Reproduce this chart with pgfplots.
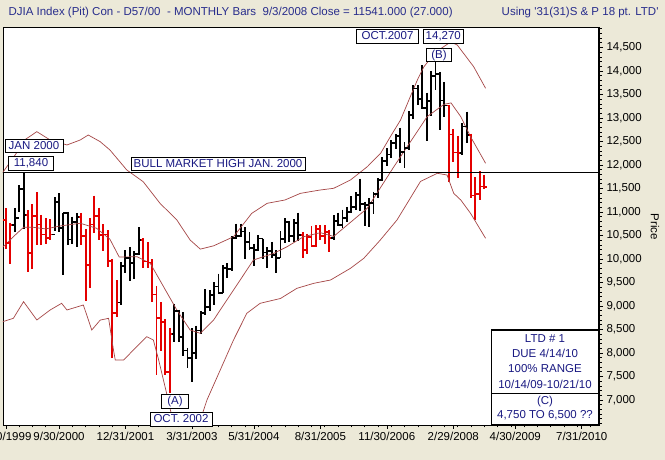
\documentclass[border=0pt]{standalone}
\usepackage{fontspec}
\setmainfont{Liberation Sans}
\usepackage{pgfplots}
\usepackage{pgfplotstable}
\pgfplotsset{compat=1.18}

\definecolor{bgbeige}{RGB}{236,233,216}
\definecolor{barred}{RGB}{228,0,0}
\definecolor{band}{RGB}{165,70,70}
\definecolor{navytxt}{RGB}{25,25,130}
\definecolor{titleblue}{RGB}{40,45,140}

\newcommand{\fs}{\fontsize{11.5bp}{13bp}\selectfont}

% open tick to the left, close tick to the right
\pgfdeclareplotmark{ohlcopen}{\pgfpathmoveto{\pgfpoint{-2.6bp}{0pt}}\pgfpathlineto{\pgfpoint{0pt}{0pt}}\pgfusepathqstroke}
\pgfdeclareplotmark{ohlcclose}{\pgfpathmoveto{\pgfpoint{0pt}{0pt}}\pgfpathlineto{\pgfpoint{2.6bp}{0pt}}\pgfusepathqstroke}

% month index m: Jan 2000 = 0
\pgfplotstableread{
m o h l c
-4 10829 11079 10213 10337
-3 10337 10772 9885 10729
1 10941 11041 9731 10128
2 10128 11164 9796 10922
3 10922 11425 10306 10734
4 10734 10937 10299 10522
5 10522 10863 10319 10448
6 10448 10843 10413 10522
13 10887 10983 10304 10495
14 10495 10642 9106 9879
15 9879 10863 9389 10735
16 10735 11350 10545 10912
17 10912 11095 10401 10502
18 10502 10735 10175 10523
19 10523 10610 9830 9950
20 9950 10000 7900 8848
21 8848 9545 8760 9075
27 10404 10440 9817 9946
28 9946 10353 9801 9925
29 9925 9995 9082 9243
30 9243 9430 7532 8737
31 8737 9077 8043 8664
32 8664 8722 7527 7592
33 7592 8539 7150 8397
63 10504 10570 10013 10193
64 10193 10542 10100 10467
65 10467 10706 10264 10275
66 10275 10720 10254 10641
67 10641 10719 10397 10482
68 10482 10720 10315 10569
69 10569 10627 10156 10440
96 13265 13279 11635 12650
97 12650 12767 12071 12266
98 12266 12622 11731 12263
101 12638 12668 11287 11350
102 11350 11735 10827 11378
103 11378 11866 11253 11544
104 11544 11790 11480 11532
}\redbars

\pgfplotstableread{
m o h l c
-2 10729 11090 10580 10878
-1 10878 11568 10998 11497
0 11497 11840 10638 10941
7 10522 11310 10589 11215
8 11215 11401 10580 10651
9 10651 10986 9654 10971
10 10971 11003 10289 10415
11 10415 10899 10318 10787
12 10787 10983 10252 10887
22 9075 9941 9022 9852
23 9852 10184 9700 10022
24 10022 10260 9529 9920
25 9920 10165 9584 10106
26 10106 10673 10078 10404
34 8397 9043 8236 8896
35 8896 8922 8232 8342
36 8342 8869 7945 8054
37 8054 8107 7673 7891
38 7891 8522 7390 7992
39 7992 8580 7866 8480
40 8480 8898 8394 8850
41 8850 9351 8812 8985
42 8985 9337 8888 9234
43 9234 9503 9021 9416
44 9416 9686 9275 9275
45 9275 9871 9275 9801
46 9801 9911 9591 9782
47 9782 10484 9748 10454
48 10454 10754 10418 10488
49 10488 10753 10466 10584
50 10584 10679 10007 10358
51 10358 10570 10200 10226
52 10226 10319 9853 10188
53 10188 10500 10165 10435
54 10435 10435 9999 10140
55 10140 10246 9808 10174
56 10174 10363 10013 10080
57 10080 10181 9708 10027
58 10027 10600 10027 10428
59 10428 10868 10331 10783
60 10783 10800 10368 10490
61 10490 10842 10362 10766
62 10766 10984 10392 10504
70 10440 10931 10400 10806
71 10806 10985 10700 10718
72 10718 11048 10667 10865
73 10865 11108 10785 10993
74 10993 11334 10970 11109
75 11109 11416 11033 11367
76 11367 11710 11022 11168
77 11168 11219 10699 11150
78 11150 11292 10683 11186
79 11186 11427 10961 11381
80 11381 11715 11295 11679
81 11679 12167 11655 12081
82 12081 12361 11986 12222
83 12222 12529 12149 12463
84 12463 12662 12333 12622
85 12622 12795 12050 12269
86 12269 12489 11939 12354
87 12354 13138 12319 13063
88 13063 13692 12988 13628
89 13628 13692 13267 13409
90 13409 14121 13195 13212
91 13212 13542 12518 13358
92 13358 14000 13032 13896
93 13896 14230 13603 13930
94 13930 13980 12743 13372
95 13372 13770 13016 13265
99 12263 12891 12215 12820
100 12820 13136 12477 12638
}\blackbars

\begin{document}
\begin{tikzpicture}
\fill[bgbeige] (0,0) rectangle (665bp,460bp);

\begin{axis}[
  at={(3bp,35bp)}, anchor=south west,
  scale only axis, width=596bp, height=398bp,
  xmin=-4.64, xmax=129.9, ymin=6468, ymax=14936,
  axis background/.style={fill=white},
  axis line style={black, line width=0.8bp},
  tick style={black, line width=0.6bp},
  tick align=outside,
  major tick length=4bp, minor tick length=2.5bp,
  xtick pos=left, ytick pos=right, yticklabel pos=right,
  xtick={-4,8,23,38,52,67,82,97,111,126},
  xticklabels={9/30/1999,9/30/2000,12/31/2001,3/31/2003,5/31/2004,8/31/2005,11/30/2006,2/29/2008,4/30/2009,7/31/2010},
  minor xtick={-1,2,...,128},
  ytick={7000,7500,...,14500},
  minor ytick={6500,6600,...,14900},
  scaled y ticks=false,
  /pgf/number format/.cd, fixed, 1000 sep={,}, assume math mode=true,
  /pgfplots/.cd,
  ticklabel style={font=\fs, text=black},
]

% OHLC bars: high-low stems
\addplot[draw=none, mark=none, forget plot, error bars/.cd, y dir=minus, y explicit, error mark=none,
  error bar style={draw=barred, line width=1.9bp}]
  table[x=m, y=h, y error expr=\thisrow{h}-\thisrow{l}] {\redbars};
\addplot[draw=none, mark=none, forget plot, error bars/.cd, y dir=minus, y explicit, error mark=none,
  error bar style={draw=black, line width=1.9bp}]
  table[x=m, y=h, y error expr=\thisrow{h}-\thisrow{l}] {\blackbars};

% open and close ticks
\addplot[barred, only marks, mark=ohlcopen, mark options={line width=1.8bp}] table[x=m, y=o] {\redbars};
\addplot[barred, only marks, mark=ohlcclose, mark options={line width=1.8bp}] table[x=m, y=c] {\redbars};
\addplot[black, only marks, mark=ohlcopen, mark options={line width=1.8bp}] table[x=m, y=o] {\blackbars};
\addplot[black, only marks, mark=ohlcclose, mark options={line width=1.8bp}] table[x=m, y=c] {\blackbars};

% upper band
\addplot[band, line width=0.7bp] coordinates {
(-4.7,11840) (-2,12200) (0.5,12550) (3,12709) (6,12532) (9.8,12426) (12.8,12532)
(14.6,12638) (17.3,12496) (19.5,12319) (23.3,11894) (27,11645) (30.8,11185)
(34.6,10830) (37.6,10404) (39.9,10210) (42.9,10280) (47.4,10474) (51.5,10970)
(55,11185) (59,11255) (62.5,11397) (67,11468) (70,11504) (73.8,11681) (77.6,11964)
(80.6,12248) (82.8,12602) (85.1,12957) (87.3,13453) (88.9,13809) (90.4,14092)
(93,14400) (96.4,14617) (97.9,14553) (101.6,14092) (104.3,13632)};

% middle line
\addplot[band, line width=0.7bp] coordinates {
(-4.7,10250) (-2.3,10474) (0,10674) (2.2,10674) (5,10640) (8.2,10702) (12.8,10760)
(16.5,10653) (19.5,10420) (21.6,10040) (25.6,10050) (28.6,9908) (31.6,9411)
(34.6,8915) (37.6,8489) (39.9,8419) (42.9,8702) (45.9,9128) (47.4,9340) (51.9,9979)
(56.5,10121) (59.5,10262) (63.2,10474) (67,10560) (70,10480) (73.8,10780)
(77.6,11080) (83.6,11964) (88.1,12602) (91.1,13028) (94.9,13290) (96.5,13320)
(98.7,13028) (100.9,12602) (104.3,12036)};

% lower band
\addplot[band, line width=0.7bp] coordinates {
(-4.7,8666) (-2.3,8738) (0,9092) (3,8702) (6,8915) (8.6,9057) (9.8,8915) (13.5,9021)
(15.4,8489) (17.3,8700) (19.2,8738) (20.3,8064) (20.7,7851) (22.6,7851) (24.8,8064)
(27.8,8347) (29.3,8277) (30.5,7851) (32.4,7100) (33.5,6645) (35.5,6200) (38,6150)
(39.9,6574) (41.4,7000) (44.4,7638) (47.4,8277) (50.4,8845) (53.4,9057) (58,9160)
(61.7,9376) (65.5,9482) (69.3,9553) (73.8,9802) (76.8,10014) (80.5,10400)
(84.3,10830) (89.6,11650) (93.4,11823) (95.6,11787) (97.1,11397) (98.7,11255)
(100.9,10972) (104.3,10440)};

% bull market high
\addplot[black, line width=0.9bp] coordinates {(-10,11840) (140,11840)};
\end{axis}

\begin{scope}[x=1bp, y=-1bp, shift={(0,-460)}, font=\fs,
  lbl/.style={draw=black, line width=0.7bp, fill=white, text=navytxt,
    inner xsep=2.5bp, inner ysep=1.5bp, text height=8.5bp, text depth=2.2bp}]
\draw[black, line width=1.6bp] (599,27) -- (599,425.4);

\node[anchor=base west, text=titleblue] at (5,16) {DJIA Index (Pit) Con - D57/00\ \ - MONTHLY Bars\ \ 9/3/2008 Close = 11541.000 (27.000)};
\node[anchor=base east, text=titleblue] at (662,16) {Using \textquotesingle 31(31)S \& P 18 pt. LTD\textquotesingle};
\node[rotate=-90, text=black] at (655,227) {Price};

\node[lbl, minimum width=58bp] at (34,146) {JAN 2000};
\node[lbl, minimum width=45bp] at (31,163.5) {11,840};
\node[lbl, minimum width=173bp] at (218,164) {BULL MARKET HIGH JAN. 2000};
\node[lbl, minimum width=62bp] at (387.5,36.5) {OCT.2007};
\node[lbl, minimum width=40bp] at (443.3,36.5) {14,270};
\node[lbl, minimum width=25bp] at (439,55) {(B)};
\node[lbl, minimum width=27bp] at (175,401.7) {(A)};
\node[lbl, minimum width=62bp] at (181,419) {OCT. 2002};

\draw[black, line width=1.3bp, fill=white] (491.7,330) rectangle (598.3,393.3);
\draw[black, line width=1.3bp, fill=white] (491.7,393.3) rectangle (598.3,425);
\node[text=navytxt] at (545,338.5) {LTD \# 1};
\node[text=navytxt] at (545,353.5) {DUE 4/14/10};
\node[text=navytxt] at (545,368.5) {100\% RANGE};
\node[text=navytxt] at (545,384) {10/14/09-10/21/10};
\node[text=navytxt] at (545,402) {(C)};
\node[text=navytxt] at (545,415.5) {4,750 TO 6,500 ??};
\end{scope}

\pgfresetboundingbox
\path[use as bounding box] (0,0) rectangle (665bp,460bp);
\end{tikzpicture}
\end{document}
